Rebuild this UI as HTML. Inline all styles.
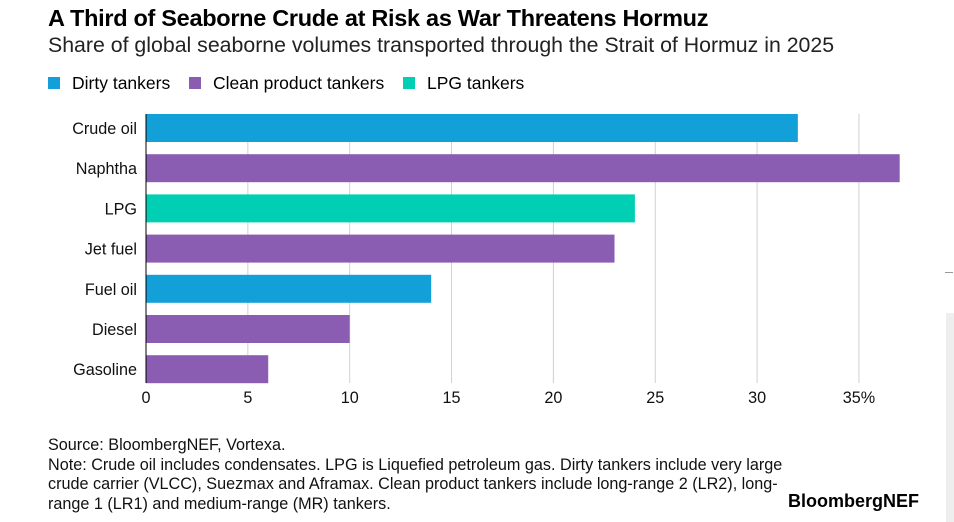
<!DOCTYPE html>
<html><head><meta charset="utf-8">
<style>
body{margin:0;width:954px;height:522px;background:#fff;font-family:"Liberation Sans",Arial,sans-serif;position:relative;overflow:hidden;color:#000}
.t{position:absolute;white-space:nowrap}
</style></head><body>
<div class="t" style="left:48px;top:5px;font-size:23.5px;font-weight:bold;letter-spacing:-0.3px">A Third of Seaborne Crude at Risk as War Threatens Hormuz</div>
<div class="t" style="left:48px;top:33px;font-size:21.3px;color:#222">Share of global seaborne volumes transported through the Strait of Hormuz in 2025</div>
<div style="position:absolute;left:48px;top:73px;font-size:17.5px;">
 <span style="position:absolute;left:0;top:0;white-space:nowrap"><span style="display:inline-block;width:12px;height:12px;background:#139fd8;margin-right:12px"></span>Dirty tankers</span>
 <span style="position:absolute;left:141px;top:0;white-space:nowrap"><span style="display:inline-block;width:12px;height:12px;background:#8a5db3;margin-right:12px"></span>Clean product tankers</span>
 <span style="position:absolute;left:355px;top:0;white-space:nowrap"><span style="display:inline-block;width:12px;height:12px;background:#00cfb4;margin-right:12px"></span>LPG tankers</span>
</div>
<svg id="chart" width="954" height="522" style="position:absolute;left:0;top:0" font-family="Liberation Sans, Arial, sans-serif"></svg>
<div style="position:absolute;left:946px;top:313px;width:8px;height:209px;background:#eee"></div>
<div style="position:absolute;left:945px;top:272px;width:8px;height:1px;background:#999"></div>
<div class="t" style="left:48px;top:436px;font-size:16.2px;line-height:19.5px;color:#111">Source: BloombergNEF, Vortexa.<br>Note: Crude oil includes condensates. LPG is Liquefied petroleum gas. Dirty tankers include very large<br>crude carrier (VLCC), Suezmax and Aframax. Clean product tankers include long-range 2 (LR2), long-<br>range 1 (LR1) and medium-range (MR) tankers.</div>
<div class="t" style="left:788px;top:491px;font-size:18px;font-weight:bold">BloombergNEF</div>
<script>
const categories=["Crude oil","Naphtha","LPG","Jet fuel","Fuel oil","Diesel","Gasoline"];
const values=[32,37,24,23,14,10,6];
const groups=["dirty","clean","lpg","clean","dirty","clean","clean"];
const ticks=[0,5,10,15,20,25,30,35];
const tickLabels=["0","5","10","15","20","25","30","35%"];
const colors={dirty:"#139fd8",clean:"#8a5db3",lpg:"#00cfb4"};
const svg=document.getElementById('chart');
const NS="http://www.w3.org/2000/svg";
const x0=146,pxPer=20.37,yTop=114,pitch=40.2,bh=28;
const xs=v=>x0+v*pxPer;
const ys=i=>yTop+i*pitch;
function mk(t,a){const e=document.createElementNS(NS,t);for(const k in a)e.setAttribute(k,a[k]);svg.appendChild(e);return e;}
ticks.forEach((t,i)=>{
 if(t>0){const g=mk('line',{x1:xs(t),x2:xs(t),y1:yTop,y2:383,stroke:'#d0d0d0','stroke-width':1});
 
 }
 const tx=mk('text',{x:xs(t),y:403,'font-size':16.2,'text-anchor':'middle',fill:'#111'});
 tx.textContent=tickLabels[i];
 
 
});
categories.forEach((c,i)=>{
 const r=mk('rect',{x:xs(0),y:ys(i),width:xs(values[i])-xs(0),height:bh,fill:colors[groups[i]]});
 
 
 const l=mk('text',{x:137,y:ys(i)+bh/2+6,'font-size':16.2,'text-anchor':'end',fill:'#111'});
 l.textContent=c;
 
 
});
const ax=mk('line',{x1:x0,x2:x0,y1:yTop,y2:383,stroke:'#000','stroke-width':1});


</script>
</body></html>
